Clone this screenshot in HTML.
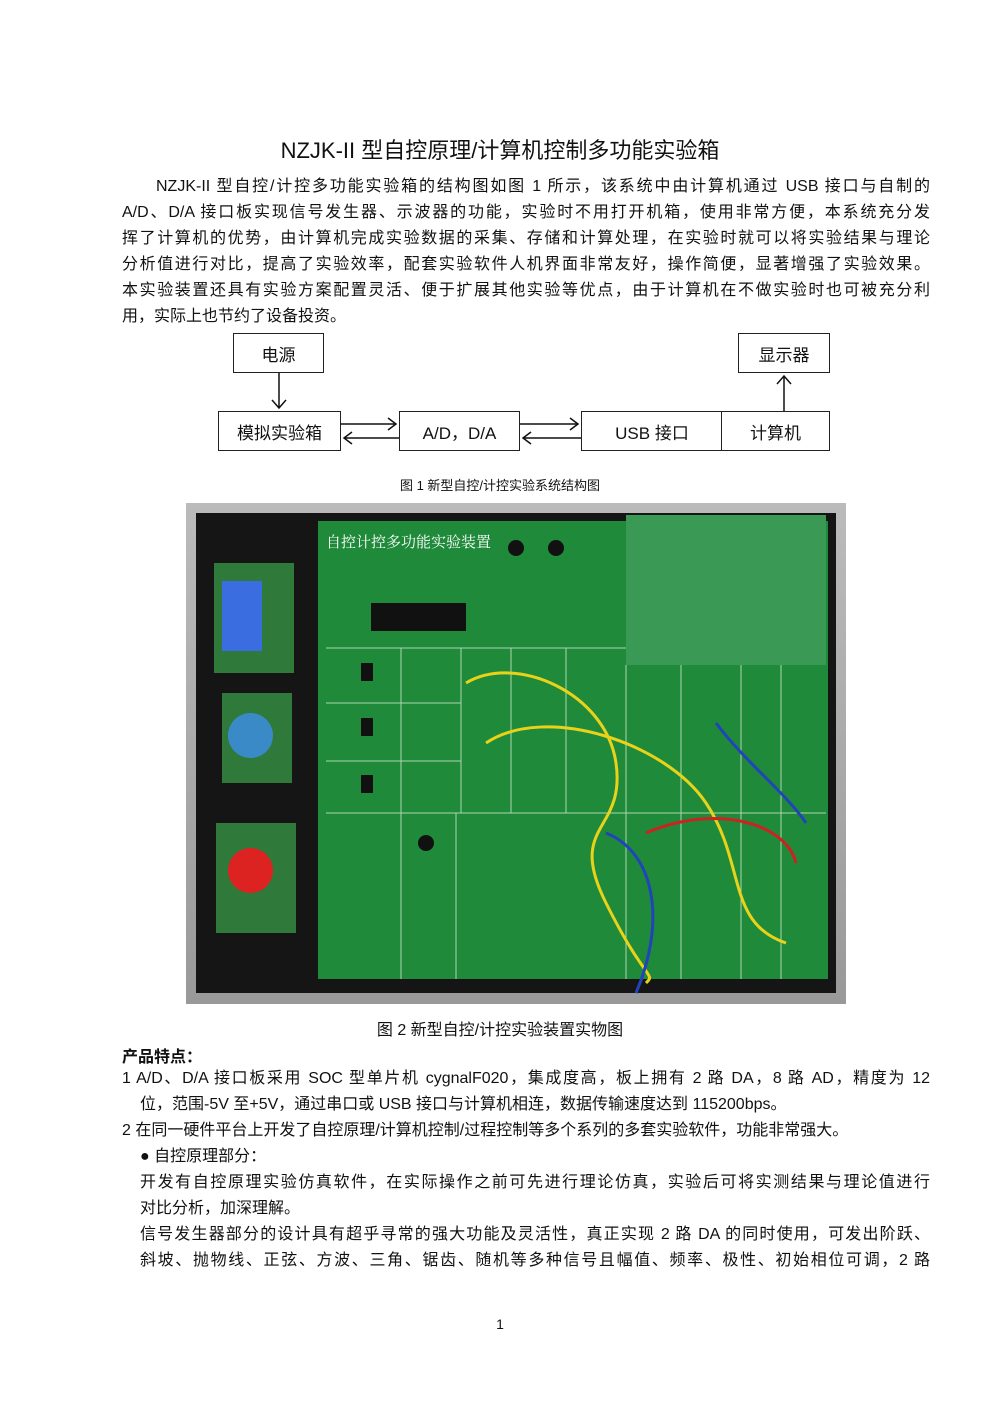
<!DOCTYPE html>
<html><head><meta charset="utf-8"><style>
body{margin:0;background:#fff;}
.pg{position:relative;width:1000px;height:1414px;font-family:"Liberation Sans","Noto Sans CJK SC",sans-serif;color:#111;}
.t{position:absolute;white-space:nowrap;}
.p{position:absolute;left:122px;width:808px;font-size:16px;line-height:26.2px;text-align:justify;text-align-last:justify;}
.box{position:absolute;border:1.5px solid #222;box-sizing:border-box;font-size:17px;display:flex;align-items:center;justify-content:center;background:#fff;}
</style></head><body><div class="pg">
<div class="t" style="left:0;width:1000px;text-align:center;top:133px;font-size:22px;">NZJK-II 型自控原理/计算机控制多功能实验箱</div>
<div class="p" style="top:174px;text-indent:34px;">NZJK-II 型自控/计控多功能实验箱的结构图如图 1 所示，该系统中由计算机通过 USB 接口与自制的</div>
<div class="p" style="top:200px;">A/D、D/A 接口板实现信号发生器、示波器的功能，实验时不用打开机箱，使用非常方便，本系统充分发</div>
<div class="p" style="top:226px;">挥了计算机的优势，由计算机完成实验数据的采集、存储和计算处理，在实验时就可以将实验结果与理论</div>
<div class="p" style="top:252px;">分析值进行对比，提高了实验效率，配套实验软件人机界面非常友好，操作简便，显著增强了实验效果。</div>
<div class="p" style="top:278px;">本实验装置还具有实验方案配置灵活、便于扩展其他实验等优点，由于计算机在不做实验时也可被充分利</div>
<div class="p" style="top:304px;text-align-last:left;">用，实际上也节约了设备投资。</div>

<div class="box" style="left:233px;top:333px;width:91px;height:40px;">电源</div>
<div class="box" style="left:738px;top:333px;width:92px;height:40px;">显示器</div>
<div class="box" style="left:218px;top:411px;width:123px;height:40px;">模拟实验箱</div>
<div class="box" style="left:399px;top:411px;width:121px;height:40px;">A/D，D/A</div>
<div class="box" style="left:581px;top:411px;width:142px;height:40px;">USB 接口</div>
<div class="box" style="left:721px;top:411px;width:109px;height:40px;">计算机</div>
<svg style="position:absolute;left:0;top:0" width="1000" height="470">
<g stroke="#111" stroke-width="1.5" fill="none">
<path d="M279 373V408M272 400L279 408L286 400"/>
<path d="M784 411V376M777 384L784 376L791 384"/>
<path d="M341 424H396M388 418L396 424L388 430"/>
<path d="M399 438H344M352 432L344 438L352 444"/>
<path d="M520 424H578M570 418L578 424L570 430"/>
<path d="M581 438H523M531 432L523 438L531 444"/>
</g></svg>
<div class="t" style="left:0;width:1000px;text-align:center;top:475px;font-size:13px;">图 1  新型自控/计控实验系统结构图</div>

<div style="position:absolute;left:186px;top:503px;width:660px;height:501px;background:#2a2a2a;overflow:hidden;">
<div style="position:absolute;left:0;top:0;width:660px;height:501px;background:linear-gradient(#bbb,#999);"></div>
<div style="position:absolute;left:10px;top:10px;width:640px;height:480px;background:#151515;"></div>
<div style="position:absolute;left:28px;top:60px;width:80px;height:110px;background:#2f7a3a;"></div>
<div style="position:absolute;left:36px;top:78px;width:40px;height:70px;background:#3a6ee0;"></div>
<div style="position:absolute;left:36px;top:190px;width:70px;height:90px;background:#2f7a3a;"></div>
<div style="position:absolute;left:42px;top:210px;width:45px;height:45px;border-radius:50%;background:#3a8ac8;"></div>
<div style="position:absolute;left:30px;top:320px;width:80px;height:110px;background:#2f7a3a;"></div>
<div style="position:absolute;left:42px;top:345px;width:45px;height:45px;border-radius:50%;background:#d22;"></div>
<div style="position:absolute;left:132px;top:18px;width:510px;height:458px;background:#1f8a3a;"></div>
<div style="position:absolute;left:440px;top:12px;width:200px;height:150px;background:#3a9a55;"></div>
<div style="position:absolute;left:185px;top:100px;width:95px;height:28px;background:#111;"></div>
<div style="position:absolute;left:140px;top:28px;font-size:15px;color:#fff;font-family:'Noto Serif CJK SC',serif;">自控计控多功能实验装置</div>
<svg style="position:absolute;left:0;top:0" width="660" height="501" fill="none">
<g stroke="#cfe8cf" stroke-width="1" opacity="0.8">
<path d="M140 145H440M215 145V476M140 310H640M270 310V476M140 200H275M140 258H275M275 145V310M325 145V310M380 145V310M440 162V476M495 162V476M555 162V476M595 162V476"/>
</g>
<g fill="#111"><rect x="175" y="160" width="12" height="18"/><rect x="175" y="215" width="12" height="18"/><rect x="175" y="272" width="12" height="18"/><circle cx="330" cy="45" r="8"/><circle cx="370" cy="45" r="8"/><circle cx="240" cy="340" r="8"/></g>
<g stroke-width="3">
<path d="M280 180C330 150 420 190 430 260S380 320 420 400 470 470 460 480" stroke="#e8d21a"/>
<path d="M300 240C360 200 480 240 520 300S540 420 600 440" stroke="#e8d21a"/>
<path d="M420 330C470 350 480 420 450 490" stroke="#2244bb"/>
<path d="M530 220C560 260 600 290 620 320" stroke="#2244bb"/>
<path d="M460 330C530 300 600 320 610 360" stroke="#cc2222"/>
</g></svg>
</div>
<div class="t" style="left:0;width:1000px;text-align:center;top:1016px;font-size:16px;">图 2  新型自控/计控实验装置实物图</div>
<div class="t" style="left:122px;top:1043px;font-size:16px;font-weight:bold;">产品特点：</div>
<div class="p" style="top:1066px;">1  A/D、D/A 接口板采用 SOC 型单片机 cygnalF020，集成度高，板上拥有 2 路 DA，8 路 AD，精度为 12</div>
<div class="p" style="top:1092px;left:140px;width:790px;text-align-last:left;">位，范围-5V 至+5V，通过串口或 USB 接口与计算机相连，数据传输速度达到 115200bps。</div>
<div class="p" style="top:1118px;text-align-last:left;">2  在同一硬件平台上开发了自控原理/计算机控制/过程控制等多个系列的多套实验软件，功能非常强大。</div>
<div class="p" style="top:1144px;left:140px;text-align-last:left;">● 自控原理部分：</div>
<div class="p" style="top:1170px;left:140px;width:790px;">开发有自控原理实验仿真软件，在实际操作之前可先进行理论仿真，实验后可将实测结果与理论值进行</div>
<div class="p" style="top:1196px;left:140px;text-align-last:left;">对比分析，加深理解。</div>
<div class="p" style="top:1222px;left:140px;width:790px;">信号发生器部分的设计具有超乎寻常的强大功能及灵活性，真正实现 2 路 DA 的同时使用，可发出阶跃、</div>
<div class="p" style="top:1248px;left:140px;width:790px;">斜坡、抛物线、正弦、方波、三角、锯齿、随机等多种信号且幅值、频率、极性、初始相位可调，2 路</div>
<div class="t" style="left:0;width:1000px;text-align:center;top:1316px;font-size:14px;">1</div>
</div></body></html>
